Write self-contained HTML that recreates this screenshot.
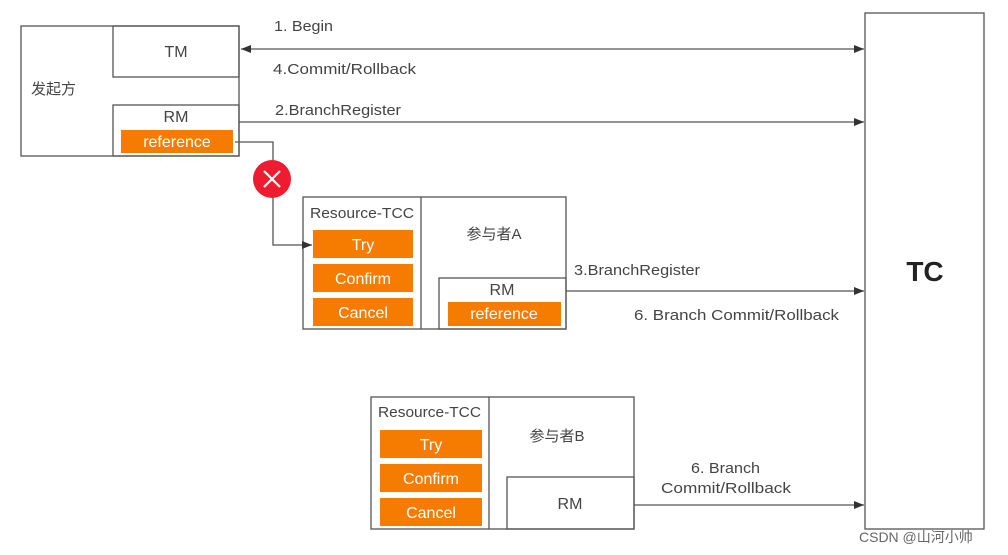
<!DOCTYPE html>
<html><head><meta charset="utf-8"><style>
html,body{margin:0;padding:0;background:#fff;}
svg{display:block;}
text{font-family:"Liberation Sans","Noto Sans CJK SC",sans-serif;}
</style></head><body>
<svg width="1008" height="555" viewBox="0 0 1008 555" xmlns="http://www.w3.org/2000/svg">
<defs>
<marker id="a" markerWidth="10" markerHeight="8" refX="10" refY="4" orient="auto" markerUnits="userSpaceOnUse"><path d="M0,0 L10,4 L0,8 z" fill="#333"/></marker>
<marker id="b" markerWidth="10" markerHeight="8" refX="0" refY="4" orient="auto" markerUnits="userSpaceOnUse"><path d="M10,0 L0,4 L10,8 z" fill="#333"/></marker>
</defs>
<g fill="none" stroke="#555" stroke-width="1.3">
<rect x="21" y="26" width="218" height="130"/>
<rect x="113" y="26" width="126" height="51"/>
<rect x="113" y="105" width="126" height="51"/>
<rect x="303" y="197" width="263" height="132"/>
<line x1="421" y1="197" x2="421" y2="329"/>
<rect x="439" y="278" width="127" height="51"/>
<rect x="371" y="397" width="263" height="132"/>
<line x1="489" y1="397" x2="489" y2="529"/>
<rect x="507" y="477" width="127" height="52"/>
<rect x="865" y="13" width="119" height="516"/>
</g>
<g fill="#f57c00">
<rect x="121" y="130" width="112" height="23"/>
<rect x="313" y="230" width="100" height="28"/>
<rect x="313" y="264" width="100" height="28"/>
<rect x="313" y="298" width="100" height="28"/>
<rect x="448" y="302" width="113" height="24"/>
<rect x="380" y="430" width="102" height="28"/>
<rect x="380" y="464" width="102" height="28"/>
<rect x="380" y="498" width="102" height="28"/>
</g>
<g stroke="#555" stroke-width="1.3" fill="none">
<line x1="241" y1="49" x2="864" y2="49" marker-start="url(#b)" marker-end="url(#a)"/>
<line x1="239" y1="122" x2="864" y2="122" marker-end="url(#a)"/>
<line x1="566" y1="291" x2="864" y2="291" marker-end="url(#a)"/>
<line x1="634" y1="505" x2="864" y2="505" marker-end="url(#a)"/>
<polyline points="235,142 273,142 273,245 312,245" marker-end="url(#a)"/>
</g>
<circle cx="272" cy="179" r="19" fill="#ee1c2e"/>
<path d="M264,171 L280,187 M280,171 L264,187" stroke="#fff" stroke-width="2.2"/>
<g font-size="15" fill="#444">
<text x="176" y="57" text-anchor="middle" font-size="16">TM</text>
<text x="31" y="94" font-size="15">发起方</text>
<text x="176" y="122" text-anchor="middle" font-size="16">RM</text>
<text x="274" y="31" textLength="59" lengthAdjust="spacingAndGlyphs">1. Begin</text>
<text x="273" y="74" textLength="143" lengthAdjust="spacingAndGlyphs">4.Commit/Rollback</text>
<text x="275" y="115" textLength="126" lengthAdjust="spacingAndGlyphs">2.BranchRegister</text>
<text x="310" y="218" textLength="104" lengthAdjust="spacingAndGlyphs">Resource-TCC</text>
<text x="494" y="239" text-anchor="middle">参与者A</text>
<text x="502" y="295" text-anchor="middle" font-size="16">RM</text>
<text x="574" y="275" textLength="126" lengthAdjust="spacingAndGlyphs">3.BranchRegister</text>
<text x="634" y="320" textLength="205" lengthAdjust="spacingAndGlyphs">6. Branch Commit/Rollback</text>
<text x="378" y="417" textLength="103" lengthAdjust="spacingAndGlyphs">Resource-TCC</text>
<text x="557" y="441" text-anchor="middle">参与者B</text>
<text x="570" y="509" text-anchor="middle" font-size="16">RM</text>
<text x="691" y="473" textLength="69" lengthAdjust="spacingAndGlyphs">6. Branch</text>
<text x="661" y="493" textLength="130" lengthAdjust="spacingAndGlyphs">Commit/Rollback</text>
<text x="859" y="542" font-size="14" fill="#666">CSDN @山河小帅</text>
</g>
<text x="925" y="281" text-anchor="middle" font-size="28" font-weight="bold" fill="#222">TC</text>
<g fill="#fff" font-size="16" text-anchor="middle">
<text x="177" y="147">reference</text>
<text x="363" y="250">Try</text>
<text x="363" y="284">Confirm</text>
<text x="363" y="318">Cancel</text>
<text x="504" y="319">reference</text>
<text x="431" y="450">Try</text>
<text x="431" y="484">Confirm</text>
<text x="431" y="518">Cancel</text>
</g>
</svg>
</body></html>
